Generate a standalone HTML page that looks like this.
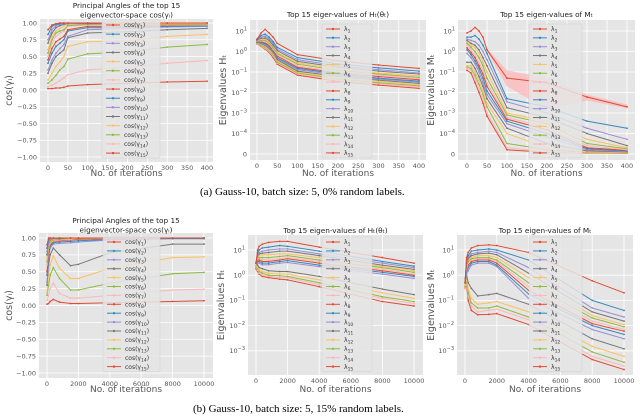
<!DOCTYPE html>
<html><head><meta charset="utf-8"><style>
html,body{margin:0;padding:0;background:#fff;}
svg{display:block;font-family:"DejaVu Sans","Liberation Sans",sans-serif;}
</style></head><body>
<svg id="fig" width="640" height="416" viewBox="0 0 640 416" xmlns="http://www.w3.org/2000/svg">
<text x="200" y="195" font-family="Liberation Serif, serif" font-size="11">(a)  Gauss-10, batch size: 5, 0% random labels.</text>
<text x="193" y="412" font-family="Liberation Serif, serif" font-size="11">(b)  Gauss-10, batch size: 5, 15% random labels.</text>
</svg>
<script>
const COLORS=['#E24A33','#348ABD','#988ED5','#777777','#FBC15E','#8EBA42','#FFB5B8'];
// ---- data ----
const xsA=[0,10,20,30,40,50,100,200,300,400];
const xsB=[0,100,200,400,800,1500,2000,4000,8000,10000];
const cosA=[
[0.9,0.97,0.99,1,1,1,1,1,1,1],
[0.83,0.95,0.98,0.99,1,1,1,1,1,1],
[0.75,0.9,0.96,0.98,0.99,0.99,1,1,1,1],
[0.7,0.85,0.93,0.96,0.98,0.99,0.99,1,1,1],
[0.6,0.8,0.88,0.92,0.95,0.98,0.99,0.99,0.99,0.99],
[0.55,0.75,0.85,0.88,0.9,0.96,0.98,0.98,0.98,0.98],
[0.5,0.7,0.8,0.85,0.88,0.95,0.97,0.97,0.97,0.97],
[0.45,0.62,0.72,0.76,0.8,0.9,0.95,0.95,0.96,0.97],
[0.4,0.55,0.65,0.7,0.75,0.88,0.93,0.93,0.95,0.96],
[0.3,0.45,0.55,0.62,0.68,0.8,0.9,0.92,0.94,0.95],
[0.25,0.4,0.5,0.55,0.6,0.78,0.85,0.87,0.9,0.92],
[0.15,0.25,0.35,0.42,0.5,0.65,0.72,0.73,0.8,0.83],
[0.1,0.15,0.22,0.3,0.35,0.46,0.54,0.57,0.64,0.68],
[0.05,0.07,0.1,0.14,0.18,0.23,0.3,0.34,0.4,0.44],
[0.02,0.02,0.03,0.03,0.04,0.06,0.08,0.1,0.12,0.13]];
const hA=[
[4,8,12,8,5,2.5,0.7,0.35,0.22,0.15],
[3.8,6,7,5,3,1.6,0.5,0.25,0.16,0.11],
[3.6,5,5.5,4,2.5,1.3,0.4,0.2,0.13,0.09],
[3.5,4.5,4.5,3.5,2,1.1,0.33,0.17,0.11,0.08],
[3.4,4,4,3,1.8,0.9,0.28,0.14,0.09,0.065],
[3.3,3.6,3.5,2.6,1.5,0.8,0.24,0.12,0.08,0.055],
[3.2,3.3,3,2.3,1.3,0.7,0.2,0.1,0.07,0.048],
[3.1,3,2.8,2,1.2,0.6,0.17,0.09,0.06,0.042],
[3,2.8,2.5,1.8,1.1,0.5,0.15,0.08,0.05,0.036],
[2.9,2.6,2.2,1.6,1,0.45,0.13,0.07,0.045,0.032],
[2.8,2.4,2,1.4,0.9,0.4,0.11,0.06,0.04,0.028],
[2.7,2.2,1.8,1.2,0.8,0.35,0.1,0.05,0.035,0.024],
[2.6,2,1.6,1.1,0.7,0.3,0.09,0.045,0.03,0.021],
[2.5,1.9,1.4,1,0.6,0.27,0.08,0.04,0.027,0.018],
[2.4,1.8,1.3,0.9,0.5,0.24,0.07,0.035,0.023,0.016]];
const mA=[
[8,10,15,10,5,1.2,0.05,0.03,0.006,0.002],
[5,5,6,4,2,0.8,0.005,0.002,0.0004,0.00018],
[4,3.5,3,2,1,0.4,0.0035,0.001,0.00018,0.00007],
[3.5,2.5,2,1.2,0.5,0.2,0.0018,0.0006,0.0001,0.00004],
[3,2,1.5,0.8,0.3,0.1,0.001,0.0004,0.00007,0.00003],
[2.5,1.6,1,0.5,0.2,0.05,0.0008,0.0003,0.00005,0.000025],
[2,1.2,0.7,0.3,0.12,0.03,0.0006,0.0002,0.00004,0.00002],
[1.5,0.9,0.5,0.2,0.08,0.02,0.0005,0.00015,0.00003,0.000018],
[1.2,0.7,0.35,0.15,0.05,0.012,0.0004,0.0001,0.000025,0.000015],
[0.8,0.5,0.25,0.1,0.03,0.008,0.0003,0.00008,0.00002,0.000012],
[0.3,0.3,0.15,0.06,0.02,0.005,0.00018,0.00005,0.000015,0.00001],
[0.2,0.2,0.1,0.04,0.012,0.003,0.0001,0.00003,0.00001,0.000008],
[0.18,0.15,0.07,0.025,0.008,0.002,0.00005,0.00002,0.000008,0.000006],
[0.15,0.12,0.05,0.015,0.005,0.001,0.00003,0.00001,0.000006,0.000004],
[0.12,0.09,0.03,0.01,0.003,0.0007,0.00002,0.000008,0.000004,0.000003]];
const mABandX=[50,100,200,300,400];
const mABandLo=[1.0,0.02,0.0015,0.004,0.0017];
const mABandHi=[1.4,0.12,0.05,0.008,0.0026];
const cosB=[
[0.9,1,1,1,1,1,1,1,1,1],
[0.85,0.98,1,1,1,1,1,1,1,1],
[0.8,0.95,0.98,0.99,1,1,1,1,1,1],
[0.75,0.93,0.97,0.99,0.99,1,1,1,1,1],
[0.7,0.9,0.96,0.98,0.99,0.99,1,1,1,1],
[0.65,0.88,0.94,0.97,0.98,0.99,0.99,1,1,1],
[0.6,0.85,0.92,0.96,0.97,0.98,0.99,0.99,1,1],
[0.5,0.8,0.9,0.95,0.96,0.97,0.98,0.99,1,1],
[0.45,0.75,0.88,0.93,0.94,0.95,0.96,0.98,0.99,0.99],
[0.35,0.7,0.85,0.91,0.92,0.93,0.94,0.97,0.99,0.99],
[0.3,0.6,0.75,0.85,0.75,0.59,0.61,0.78,0.91,0.91],
[0.2,0.45,0.6,0.74,0.55,0.4,0.4,0.55,0.71,0.72],
[0.15,0.3,0.45,0.56,0.4,0.23,0.23,0.33,0.47,0.49],
[0.08,0.15,0.25,0.33,0.18,0.11,0.11,0.15,0.23,0.24],
[0.02,0.03,0.06,0.09,0.05,0.03,0.03,0.04,0.06,0.07]];
const hB=[
[3,10,14,17,20,22,22,13,5,3],
[3,8,10,12,13,15,14,9,3.5,2.3],
[3,7,8,9,10,11,11,7,3,2],
[3,6,7,7.5,8,9,9,6,2.5,1.7],
[3,5.5,6,6.5,6.5,7,7,5,2.2,1.5],
[3,5,5,5,5,5.5,6,4,2,1.3],
[3,4.5,4.5,4.2,4,4.5,5,3.5,1.7,1.1],
[3,4,4,3.5,3.5,4,4.5,3,1.5,1],
[3,3.5,3.5,3,3,3.5,3.8,2.5,1.3,0.9],
[3,3,3,2.6,2.6,3,3.2,2.2,1.1,0.75],
[3,2.5,2,1.8,1.5,1.4,1.4,0.9,0.28,0.17],
[2.5,2,1.6,1.4,1.2,1.1,1.1,0.65,0.2,0.12],
[2.2,1.8,1.4,1.2,1,0.95,0.9,0.5,0.14,0.09],
[2,1.6,1.2,1,0.9,0.8,0.8,0.42,0.12,0.075],
[1.8,1.4,1.1,0.9,0.8,0.7,0.65,0.35,0.09,0.06]];
const mB=[
[0.5,5,8,12,15,16,15,8,0.6,0.2],
[0.5,4,6,9,10,11,10,4,0.1,0.04],
[0.5,3.5,5,7,8,9,8,2,0.05,0.022],
[0.5,3,4.5,6,7,7.5,6.5,1.2,0.035,0.015],
[0.5,3,4,5,6,6,5,0.8,0.025,0.011],
[0.5,2.5,3.5,4.5,5,5,4,0.5,0.02,0.009],
[0.5,2,3,4,4.5,4.5,3.5,0.35,0.015,0.007],
[0.5,2,2.5,3.5,4,4,3,0.25,0.012,0.006],
[0.5,1.5,2,3,3.5,3.5,2.5,0.18,0.01,0.0045],
[0.5,1.2,1.5,2.5,3,3,2.2,0.12,0.007,0.003],
[0.5,1,0.5,0.3,0.15,0.17,0.19,0.07,0.003,0.0012],
[0.4,0.8,0.3,0.12,0.07,0.08,0.09,0.035,0.0015,0.0006],
[0.35,0.6,0.2,0.08,0.05,0.05,0.06,0.022,0.0009,0.00035],
[0.3,0.5,0.15,0.06,0.035,0.04,0.045,0.017,0.0006,0.00025],
[0.3,0.4,0.1,0.04,0.027,0.028,0.03,0.011,0.00045,0.00018]];
const xTicksA=[0,50,100,150,200,250,300,350,400];
const xTicksB=[0,2000,4000,6000,8000,10000];
const cosTicks=[-1,-0.75,-0.5,-0.25,0,0.25,0.5,0.75,1];
const symTicks=[10,1,0.1,0.01,0.001,0.0001,0];
const logTicks=[10,1,0.1,0.01,0.001];

const NS='http://www.w3.org/2000/svg';
const svg=document.getElementById('fig');
function el(tag,attrs,parent){const e=document.createElementNS(NS,tag);for(const k in attrs)e.setAttribute(k,attrs[k]);(parent||svg).appendChild(e);return e;}
function symlog(top){return v=>{if(v<1e-4)return 154-(v/1e-4)*21;return top+(1-Math.log10(v))*20.5;};}
function logmap(top){return v=>top+(1-Math.log10(v))*25.2;}
function linmap(a,b,v0,v1){return v=>a+(v-v0)/(v1-v0)*(b-a);}
function fmtCos(v){return v.toFixed(2).replace('-','\u2212');}
function addPow(t,v){
  if(v===0){t.textContent='0';return;}
  const e=Math.round(Math.log10(v));
  const a=document.createElementNS(NS,'tspan');a.textContent='10';t.appendChild(a);
  const b=document.createElementNS(NS,'tspan');b.setAttribute('dy','-3');b.setAttribute('font-size','5');b.textContent=e<0?'\u2212'+(-e):String(e);t.appendChild(b);
}
function panel(c){
  const g=el('g',{});
  
  
  const bg=el('rect',{x:c.x0,y:c.y0,width:c.x1-c.x0,height:c.y1-c.y0,fill:'#E5E5E5'},g);
  
  
  c.xticks.forEach(v=>{const x=c.xm(v);
    el('line',{x1:x,x2:x,y1:c.y0,y2:c.y1,stroke:'#fff','stroke-width':0.8},g);
    const t=el('text',{x:x,y:c.y1+8,'font-size':6.5,fill:'#555','text-anchor':'middle'},g);
    
    
    t.textContent=String(v);});
  c.yticks.forEach(v=>{const y=c.ym(v);
    el('line',{x1:c.x0,x2:c.x1,y1:y,y2:y,stroke:'#fff','stroke-width':0.8},g);
    const t=el('text',{x:c.x0-3,y:y+2.3,'font-size':6.5,fill:'#555','text-anchor':'end'},g);
    
    
    if(c.cos)t.textContent=fmtCos(v);else addPow(t,v);});
  if(c.band){const pts=[];c.band.x.forEach((x,i)=>pts.push(c.xm(x)+','+c.ym(c.band.hi[i])));
    for(let i=c.band.x.length-1;i>=0;i--)pts.push(c.xm(c.band.x[i])+','+c.ym(c.band.lo[i]));
    const p=el('polygon',{points:pts.join(' '),fill:'#FFB5B8','fill-opacity':0.7},g);
    
    }
  for(let s=c.series.length-1;s>=0;s--){
    const col=COLORS[s%7];const d=c.series[s].map((v,i)=>c.xm(c.xs[i])+','+c.ym(v)).join(' ');
    const pl=el('polyline',{points:d,fill:'none',stroke:col,'stroke-width':1},g);
    
    
    c.series[s].forEach((v,i)=>{const m=el('circle',{cx:c.xm(c.xs[i]),cy:c.ym(v),r:0.9,fill:col},g);
      
      });
  }
  const L=c.leg;const lg=el('g',{},g);
  
  
  el('rect',{x:L.x,y:L.y-5,width:L.w,height:L.step*14+10,fill:'#E5E5E5','fill-opacity':0.85,stroke:'#d0d0d0','stroke-width':0.5,rx:1.5},lg);
  for(let s=0;s<15;s++){const y=L.y+s*L.step;const col=COLORS[s%7];
    const e=el('g',{},lg);
    
    
    el('line',{x1:L.x+4,x2:L.x+18,y1:y,y2:y,stroke:col,'stroke-width':1},e);
    el('circle',{cx:L.x+11,cy:y,r:1.2,fill:col},e);
    const t=el('text',{x:L.x+22,y:y+2.2,'font-size':6,fill:'#333'},e);
    const a=document.createElementNS(NS,'tspan');a.textContent=c.cos?'cos(\u03b3':'\u03bb';t.appendChild(a);
    const b=document.createElementNS(NS,'tspan');b.setAttribute('font-size','4.5');b.setAttribute('dy','1.5');b.textContent=String(s+1);t.appendChild(b);
    if(c.cos){const d=document.createElementNS(NS,'tspan');d.setAttribute('dy','-1.5');d.textContent=')';t.appendChild(d);}
  }
  c.title.forEach((ln,i)=>{const t=el('text',{x:(c.x0+c.x1)/2,y:c.ty+i*9.5,'font-size':7.3,fill:'#222','text-anchor':'middle'},g);
    
    
    t.textContent=ln;});
  const xl=el('text',{x:(c.x0+c.x1)/2,y:c.xly,'font-size':9,fill:'#555','text-anchor':'middle'},g);
  
  
  xl.textContent='No. of iterations';
  const cy=(c.y0+c.y1)/2;
  const yl=el('text',{x:c.ylx,y:cy,'font-size':9.5,fill:'#555','text-anchor':'middle',transform:'rotate(-90 '+c.ylx+' '+cy+')'},g);
  
  
  yl.textContent=c.ylabel;
}
panel({name:'panel-a-cos',x0:40,x1:213,y0:19,y1:162,xm:linmap(48,207,0,400),ym:linmap(157,23,-1,1),xs:xsA,series:cosA,cos:true,
  xticks:xTicksA,yticks:cosTicks,leg:{x:102,y:25,step:9.15,w:58},title:['Principal Angles of the top 15','eigenvector-space cos(\u03b3\u1d62)'],ty:8,xly:176,ylx:12,ylabel:'cos(\u03b3\u1d62)'});
panel({name:'panel-a-hessian',x0:250,x1:426,y0:20,y1:160,xm:linmap(257,419,0,400),ym:symlog(31),xs:xsA,series:hA,
  xticks:xTicksA,yticks:symTicks,leg:{x:322,y:29,step:8.85,w:50},title:['Top 15 eiger-values of H\u209c(\u03b8\u209c)'],ty:17,xly:176,ylx:226,ylabel:'Eigenvalues H\u209c'});
panel({name:'panel-a-m',x0:458,x1:635,y0:20,y1:160,xm:linmap(467,627,0,400),ym:symlog(31),xs:xsA,series:mA,band:{x:mABandX,lo:mABandLo,hi:mABandHi},
  xticks:xTicksA,yticks:symTicks,leg:{x:529,y:29,step:8.85,w:53},title:['Top 15 eigen-values of M\u209c'],ty:17,xly:176,ylx:434,ylabel:'Eigenvalues M\u209c'});
panel({name:'panel-b-cos',x0:39,x1:213,y0:233,y1:378,xm:linmap(47,204,0,10000),ym:linmap(373,238,-1,1),xs:xsB,series:cosB,cos:true,
  xticks:xTicksB,yticks:cosTicks,leg:{x:103,y:242,step:8.9,w:57},title:['Principal Angles of the top 15','eigenvector-space cos(\u03b3\u1d62)'],ty:223,xly:392,ylx:12,ylabel:'cos(\u03b3\u1d62)'});
panel({name:'panel-b-hessian',x0:248,x1:423,y0:235,y1:375,xm:linmap(256,414,0,10000),ym:logmap(250),xs:xsB,series:hB,
  xticks:xTicksB,yticks:logTicks,leg:{x:322,y:242,step:8.9,w:50},title:['Top 15 eigen-values of H\u209c(\u03b8\u209c)'],ty:233,xly:392,ylx:224,ylabel:'Eigenvalues H\u209c'});
panel({name:'panel-b-m',x0:457,x1:633,y0:235,y1:375,xm:linmap(465,624,0,10000),ym:logmap(250),xs:xsB,series:mB,
  xticks:xTicksB,yticks:logTicks,leg:{x:529,y:242,step:8.9,w:53},title:['Top 15 eigen-values of M\u209c'],ty:233,xly:392,ylx:434,ylabel:'Eigenvalues M\u209c'});
</script>
</body></html>
